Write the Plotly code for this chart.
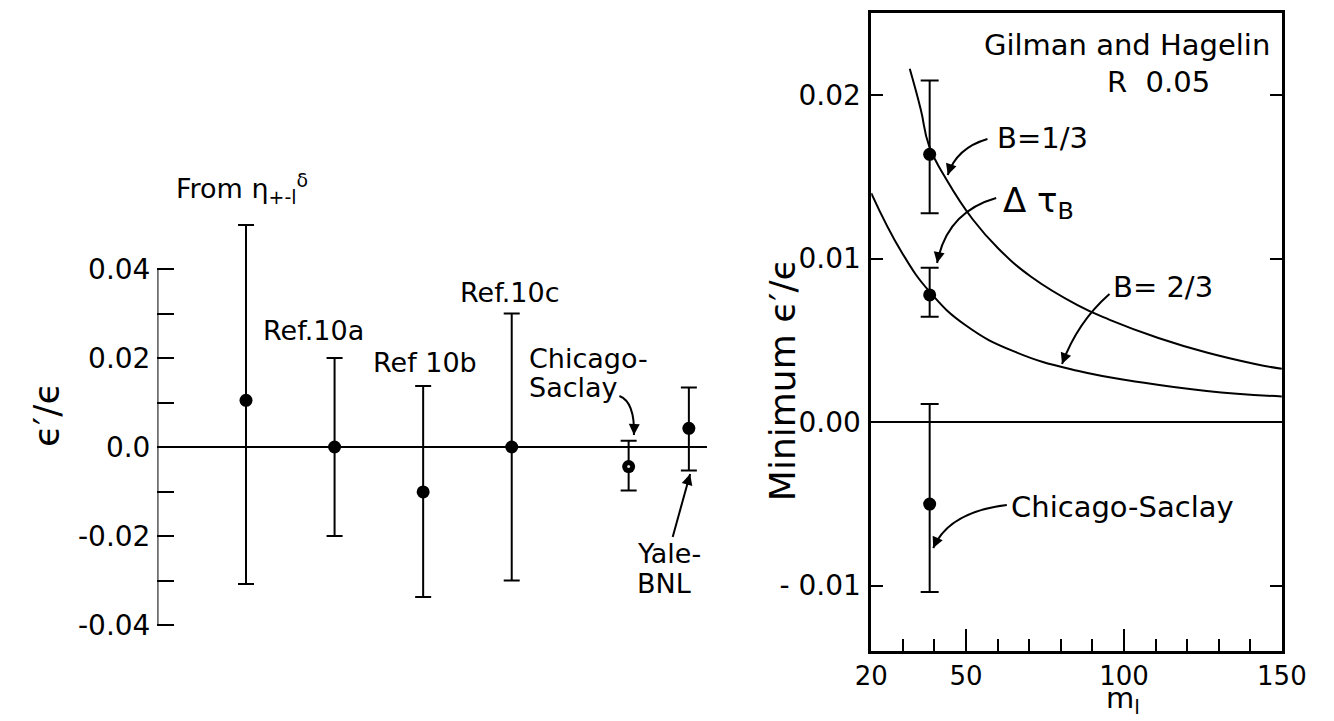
import plotly.graph_objects as go

W, H = 1334, 721
FONT = "DejaVu Sans"

# ---------------- left panel data ----------------
left_labels = ["From eta", "Ref.10a", "Ref 10b", "Ref.10c", "Chicago-Saclay", "Yale-BNL"]
left_x = [1.0, 2.0, 3.0, 4.0, 5.32, 6.0]
left_val = [0.0105, 0.0, -0.0101, 0.0, -0.0044, 0.0042]
left_err_plus = [0.0394, 0.020, 0.0238, 0.030, 0.0058, 0.0092]
left_err_minus = [0.0413, 0.020, 0.0236, 0.030, 0.0054, 0.0095]
left_tickvals = [-0.04, -0.03, -0.02, -0.01, 0.0, 0.01, 0.02, 0.03, 0.04]
left_ticktext = ["-0.04", "", "-0.02", "", "0.0", "", "0.02", "", "0.04"]

# ---------------- right panel data ----------------
right_labels = ["B=1/3", "Delta tau_B", "Chicago-Saclay"]
right_m = [38.5, 38.5, 38.5]
right_val = [0.01637, 0.00777, -0.00502]
right_err_plus = [0.00451, 0.00167, 0.00612]
right_err_minus = [0.00361, 0.00133, 0.00538]

curve_b13_m = [32.2, 35.7, 38.3, 43.9, 52.1, 60.3, 70.5, 85.3, 95.5, 110.9, 126.2, 141.5, 150.0]
curve_b13_v = [0.0216, 0.0191, 0.0169, 0.0148, 0.0124, 0.0106, 0.0089, 0.00715, 0.00625, 0.00514,
               0.00425, 0.00355, 0.00325]
curve_b23_m = [20.0, 29.6, 38.8, 50.0, 65.4, 85.3, 105.8, 126.2, 150.0]
curve_b23_v = [0.0140, 0.0104, 0.0079, 0.0059, 0.0043, 0.00313, 0.00242, 0.0019, 0.00156]

right_tickvals = [-0.01, 0.0, 0.01, 0.02]
right_ticktext = ["- 0.01", "0.00", "0.01", "0.02"]
x2_tickvals = [20, 50, 100, 150]
x2_ticktext = ["20", "50", "100", "150"]


def px(x):
    return x / W


def py(y):
    return 1 - y / H


fig = go.Figure()

# left panel points
fig.add_trace(go.Scatter(
    x=left_x, y=left_val, mode="markers",
    marker=dict(size=13, color="black"),
    error_y=dict(type="data", array=left_err_plus, arrayminus=left_err_minus,
                 color="black", thickness=2, width=8),
    xaxis="x", yaxis="y", cliponaxis=False, hoverinfo="skip"))
# light centre of the Chicago-Saclay marker
fig.add_trace(go.Scatter(
    x=[left_x[4]], y=[left_val[4]], mode="markers",
    marker=dict(size=3, color="#dddddd"), xaxis="x", yaxis="y",
    cliponaxis=False, hoverinfo="skip"))

# right panel curves
fig.add_trace(go.Scatter(x=curve_b13_m, y=curve_b13_v, mode="lines",
                         line=dict(color="black", width=2, shape="spline", smoothing=1.3),
                         xaxis="x2", yaxis="y2", hoverinfo="skip"))
fig.add_trace(go.Scatter(x=curve_b23_m, y=curve_b23_v, mode="lines",
                         line=dict(color="black", width=2, shape="spline", smoothing=1.3),
                         xaxis="x2", yaxis="y2", hoverinfo="skip"))
# right panel points
fig.add_trace(go.Scatter(
    x=right_m, y=right_val, mode="markers",
    marker=dict(size=13, color="black"),
    error_y=dict(type="data", array=right_err_plus, arrayminus=right_err_minus,
                 color="black", thickness=2, width=9),
    xaxis="x2", yaxis="y2", hoverinfo="skip"))

tickfont = dict(family=FONT, size=28, color="black")

fig.update_layout(
    width=W, height=H, autosize=False,
    margin=dict(l=0, r=0, t=0, b=0),
    paper_bgcolor="white", plot_bgcolor="rgba(0,0,0,0)",
    showlegend=False,
    xaxis=dict(domain=[px(145), px(712)], range=[0, 6.2], visible=False, anchor="y"),
    yaxis=dict(domain=[0, 1], range=[-0.06157, 0.10045], anchor="x",
               showgrid=False, showline=False,
               zeroline=True, zerolinecolor="black", zerolinewidth=2,
               tickmode="array", tickvals=left_tickvals, ticktext=left_ticktext,
               ticks="inside", ticklen=17, tickwidth=2, tickcolor="black",
               tickfont=tickfont, ticklabelstandoff=6),
    xaxis2=dict(domain=[px(882), px(1306)], range=[20, 150], anchor="y2",
                showgrid=False, showline=True, linecolor="black", linewidth=2.5,
                mirror=True, zeroline=False,
                tickmode="array", tickvals=x2_tickvals, ticktext=x2_ticktext,
                ticks="inside", ticklen=22, tickwidth=2, tickcolor="black",
                minor=dict(dtick=10, tick0=20, ticks="inside", ticklen=12,
                           tickwidth=2, tickcolor="black", showgrid=False),
                tickfont=dict(family=FONT, size=26, color="black"), ticklabelstandoff=0),
    yaxis2=dict(domain=[py(651), py(13)], range=[-0.014006, 0.025015], anchor="x2",
                showgrid=False, showline=True, linecolor="black", linewidth=2.5,
                mirror="ticks",
                zeroline=True, zerolinecolor="black", zerolinewidth=2,
                tickmode="array", tickvals=right_tickvals, ticktext=right_ticktext,
                ticks="inside", ticklen=12, tickwidth=2, tickcolor="black",
                tickfont=tickfont, ticklabelstandoff=2),
)

# left vertical axis line from -0.04 to 0.04
fig.add_shape(type="line", xref="x", yref="y", x0=0, x1=0,
              y0=left_tickvals[0], y1=left_tickvals[-1],
              line=dict(color="black", width=2))

ann = []


def text(x, y, s, size=28, xanchor="center", yanchor="middle", angle=0):
    ann.append(dict(x=px(x), y=py(y), xref="paper", yref="paper", text=s,
                    showarrow=False, xanchor=xanchor, yanchor=yanchor,
                    textangle=angle, font=dict(family=FONT, size=size, color="black")))


def curved_arrow(tail, ctrl, tip):
    path = "M {},{} Q {},{} {},{}".format(px(tail[0]), py(tail[1]),
                                           px(ctrl[0]), py(ctrl[1]),
                                           px(tip[0]), py(tip[1]))
    fig.add_shape(type="path", xref="paper", yref="paper", path=path,
                  line=dict(color="black", width=2))
    dx, dy = ctrl[0] - tip[0], ctrl[1] - tip[1]
    n = (dx * dx + dy * dy) ** 0.5
    ann.append(dict(x=px(tip[0]), y=py(tip[1]), xref="paper", yref="paper",
                    ax=dx / n * 12, ay=dy / n * 12, axref="pixel", ayref="pixel",
                    text="", showarrow=True, arrowhead=2, arrowsize=1.1,
                    arrowwidth=2, arrowcolor="black", standoff=0))


# axis titles
text(30, 415, "ϵ′/ϵ", size=36, angle=-90)
text(790, 380, "Minimum ϵ′/ϵ", size=36, angle=-90)
text(1142, 721, "m<sub>l</sub>", size=29, yanchor="bottom")

# left labels
text(232, 188, "From η<sub>+-l</sub><sup>δ</sup>", size=27)
text(306, 330, "Ref.10a", size=27)
text(421, 362, "Ref 10b", size=27)
text(508, 292, "Ref.10c", size=27)
text(527, 358, "Chicago-", size=27, xanchor="left")
text(527, 387, "Saclay", size=27, xanchor="left")
text(638, 553, "Yale-", size=27, xanchor="left")
text(638, 583, "BNL", size=27, xanchor="left")
curved_arrow((622, 396), (638, 402), (637, 435))
curved_arrow((677, 537), (686, 505), (695, 474))

# right labels
text(1296, 45, "Gilman and Hagelin", size=29, xanchor="right")
text(1234, 82, "R  0.05", size=29, xanchor="right")
text(1010, 138, "B=1/3", size=29, xanchor="left")
text(1016, 202, "Δ τ<sub>B</sub>", size=34, xanchor="left")
text(1130, 287, "B= 2/3", size=29, xanchor="left")
text(1024, 507, "Chicago-Saclay", size=29, xanchor="left")
curved_arrow((1002, 139), (970, 148), (961, 175))
curved_arrow((1011, 198), (960, 212), (950, 263))
curved_arrow((1128, 294), (1095, 322), (1079, 364))
curved_arrow((1022, 505), (962, 512), (946, 548))

fig.update_layout(annotations=ann)

fig.write_html("out.html")
